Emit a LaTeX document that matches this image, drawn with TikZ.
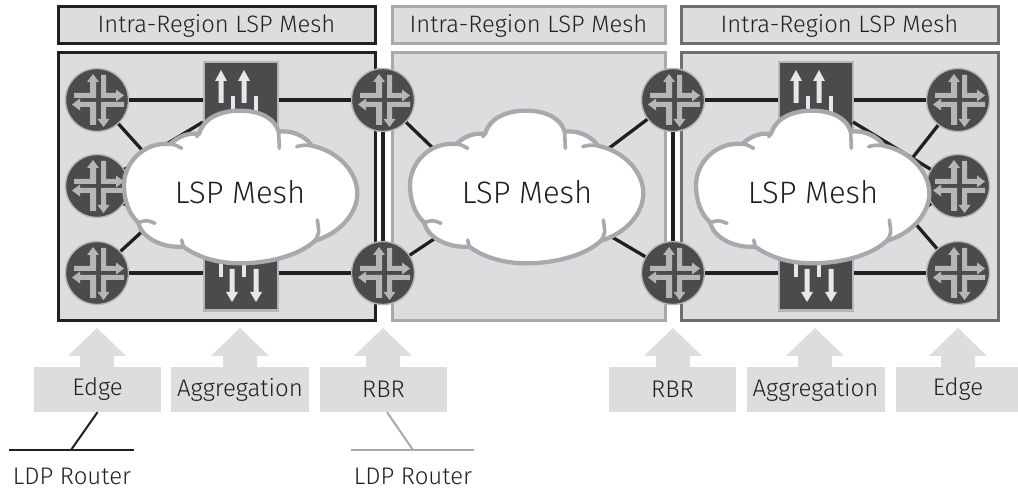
\documentclass[tikz,border=0pt]{standalone}
\usepackage{fontspec}
\setmainfont{Fira Sans}[UprightFont=* Light]
\definecolor{boxfill}{HTML}{DCDDDE}
\definecolor{darkfill}{HTML}{4A4B4D}
\definecolor{midgray}{HTML}{A7A9AC}
\definecolor{ringgray}{HTML}{B4B6B8}
\definecolor{dimgray}{HTML}{6D6E71}
\definecolor{inkblack}{HTML}{231F20}
\definecolor{arrowlight}{HTML}{E6E7E8}
\tikzset{
  x=1pt,y=-1pt,
  titlebox/.style={draw=#1,line width=3pt,fill=boxfill},
  regionbox/.style={draw=#1,line width=3pt,fill=boxfill},
  routernode/.style={circle,draw=ringgray,line width=1.4pt,fill=darkfill,minimum size=63pt,inner sep=0pt},
  aggnode/.style={rectangle,draw=ringgray,line width=2pt,fill=darkfill,minimum width=74pt,minimum height=248pt,inner sep=0pt},
  linkline/.style={line width=3.3pt,draw=inkblack},
  labelbox/.style={rectangle,fill=boxfill,inner sep=0pt,text=inkblack,font=\fontsize{24}{28}\selectfont},
  upshape/.style={fill=boxfill,draw=none},
  bigtext/.style={text=inkblack,font=\fontsize{23.8}{28}\selectfont},
  cloudtext/.style={text=inkblack,font=\fontsize{31}{36}\selectfont},
  plaintext/.style={text=inkblack,inner sep=0pt,anchor=base,font=\fontsize{24}{24}\selectfont},
  pics/routericon/.style={code={
    \fill[ringgray] (-23,-7) -- (-7,-7) -- (-7,-18) -- (-10,-18) -- (-4,-26) -- (2,-18) -- (-1,-18) -- (-1,-2) -- (-23,-2) -- cycle;
    \fill[ringgray] (4,-25) -- (9,-25) -- (9,-7) -- (19,-7) -- (19,-10.5) -- (27,-4.5) -- (19,1.5) -- (19,-2) -- (4,-2) -- cycle;
    \fill[ringgray] (-1,2) -- (-1,25) -- (-7,25) -- (-7,7) -- (-17,7) -- (-17,10.5) -- (-25,4.5) -- (-17,-1.5) -- (-17,2) -- cycle;
    \fill[ringgray] (4,2) -- (27,2) -- (27,7) -- (9,7) -- (9,19) -- (12.5,19) -- (6.5,27) -- (0.5,19) -- (4,19) -- cycle;
  }},
  pics/aggicon/.style={code={
    \fill[arrowlight] (18,70) -- (24,81) -- (20.5,81) -- (20.5,103) -- (15.5,103) -- (15.5,81) -- (12,81) -- cycle;
    \fill[arrowlight] (41,70) -- (47,81) -- (43.5,81) -- (43.5,103) -- (38.5,103) -- (38.5,81) -- (35,81) -- cycle;
    \fill[arrowlight] (27.5,96) rectangle (32,125);
    \fill[arrowlight] (50.5,96) rectangle (55,125);
    \fill[arrowlight] (29,302) -- (23,292) -- (26.5,292) -- (26.5,269) -- (31.5,269) -- (31.5,292) -- (35,292) -- cycle;
    \fill[arrowlight] (53,302) -- (47,292) -- (50.5,292) -- (50.5,269) -- (55.5,269) -- (55.5,292) -- (59,292) -- cycle;
    \fill[arrowlight] (15.5,250) rectangle (20,277);
    \fill[arrowlight] (38.5,250) rectangle (43,277);
  }},
  pics/uparrow/.style={code={
    \fill[upshape] (0,0) -- (29,28) -- (17,28) -- (17,40) -- (-17,40) -- (-17,28) -- (-29,28) -- cycle;
  }}
}
\newcommand{\cloudshape}[1]{%
\begin{scope}[xshift=#1pt,scale=1/3]
  \filldraw[fill=white,draw=midgray,line width=4.3pt,line join=round]
  (510,432) .. controls (540,405) and (570,398) .. (597,402)
  .. controls (610,355) and (660,332) .. (720,332)
  .. controls (780,332) and (825,355) .. (836,395)
  .. controls (870,390) and (915,405) .. (935,437)
  .. controls (1020,455) and (1072,520) .. (1072,580)
  .. controls (1072,640) and (1020,700) .. (945,722)
  .. controls (900,765) and (810,790) .. (720,790)
  .. controls (650,790) and (590,770) .. (550,740)
  .. controls (490,745) and (425,715) .. (415,668)
  .. controls (385,640) and (372,600) .. (372,555)
  .. controls (372,490) and (430,425) .. (510,432) -- cycle;
  \draw[midgray,line width=3.6pt,line cap=round]
    (510,432) .. controls (525,434) .. (545,445)
    (597,402) -- (590,410)
    (836,395) -- (838,445)
    (935,437) .. controls (910,435) .. (890,440)
    (945,722) .. controls (958,700) .. (952,660)
    (550,740) -- (545,720)
    (415,668) .. controls (440,660) .. (465,670);
\end{scope}}
\begin{document}
\begin{tikzpicture}
\useasboundingbox (0,0) rectangle (1018,489);
% title boxes
\node[titlebox=inkblack,minimum width=317pt,minimum height=37pt,inner sep=0pt,bigtext] (t1) at (216.5,25.5) {Intra-Region LSP Mesh};
\node[titlebox=midgray,minimum width=273pt,minimum height=37pt,inner sep=0pt,bigtext] (t2) at (528.5,25.5) {Intra-Region LSP Mesh};
\node[titlebox=dimgray,minimum width=317pt,minimum height=37pt,inner sep=0pt,bigtext] (t3) at (839.5,25.5) {Intra-Region LSP Mesh};
% region boxes
\node[regionbox=midgray,minimum width=273pt,minimum height=267pt,inner sep=0pt] (r2) at (528.5,186.5) {};
\node[regionbox=inkblack,minimum width=317pt,minimum height=267pt,inner sep=0pt] (r1) at (216.5,186.5) {};
\node[regionbox=dimgray,minimum width=317pt,minimum height=267pt,inner sep=0pt] (r3) at (839.5,186.5) {};
% aggregation
\node[aggnode] (a1) at (240.5,186.5) {};
\node[aggnode] (a2) at (815.5,186.5) {};
% routers
\foreach \n/\px/\py in {e1/97/100,e2/97/186,e3/97/273,b1/383/100,b2/383/273,b3/673/100,b4/673/273,f1/958/100,f2/958/186,f3/958/273}{
  \node[routernode] (\n) at (\px,\py) {};
}
% hidden ends of the links that run under the clouds
\coordinate (h1) at (160,170);
\coordinate (h2) at (160,215);
\coordinate (h3) at (440,155);
\coordinate (h4) at (440,235);
\coordinate (h5) at (600,155);
\coordinate (h6) at (600,230);
\coordinate (h7) at (895,180);
\coordinate (h8) at (895,200);
\coordinate (ua) at (203,122);
\coordinate (la) at (203,255);
\coordinate (ub) at (853,122);
\coordinate (lb) at (853,255);
% links
\draw[linkline] (e1) -- (e1 -| a1.west);
\draw[linkline] (e3) -- (e3 -| a1.west);
\draw[linkline] (b1) -- (b1 -| a1.east);
\draw[linkline] (b2) -- (b2 -| a1.east);
\draw[linkline] (b3) -- (b3 -| a2.west);
\draw[linkline] (b4) -- (b4 -| a2.west);
\draw[linkline] (f1) -- (f1 -| a2.east);
\draw[linkline] (f3) -- (f3 -| a2.east);
\draw[linkline] (e1) -- (h1);
\draw[linkline] (e3) -- (h2);
\draw[linkline] (e2) -- (ua);
\draw[linkline] (e2) -- (la);
\draw[linkline] (f2) -- (ub);
\draw[linkline] (f2) -- (lb);
\draw[linkline] (f1) -- (h7);
\draw[linkline] (f3) -- (h8);
\draw[linkline] (b1) -- (h3);
\draw[linkline] (b2) -- (h4);
\draw[linkline] (b3) -- (h5);
\draw[linkline] (b4) -- (h6);
\draw[linkline] (b1) -- (b2);
\draw[linkline] (b3) -- (b4);
% icons
\foreach \n in {e1,e2,e3,b1,b2,b3,b4,f1,f2,f3}{ \pic at (\n) {routericon}; }
\pic at (203,0) {aggicon};
\pic at (778,0) {aggicon};
% clouds
\cloudshape{0}
\cloudshape{286}
\cloudshape{572}
\node[cloudtext] (c1) at (240,192) {LSP Mesh};
\node[cloudtext] (c2) at (527,192) {LSP Mesh};
\node[cloudtext] (c3) at (813,192) {LSP Mesh};
% lower labels
\foreach \px in {97,240,383,673,815,958}{ \pic at (\px,328) {uparrow}; }
\node[labelbox,minimum width=127pt,minimum height=45pt] (l1) at (97.5,389.5) {Edge};
\node[labelbox,minimum width=138pt,minimum height=45pt] (l2) at (240,389.5) {Aggregation};
\node[labelbox,minimum width=127pt,minimum height=45pt] (l3) at (383.5,389.5) {RBR};
\node[labelbox,minimum width=127pt,minimum height=45pt] (l4) at (672.5,389.5) {RBR};
\node[labelbox,minimum width=138pt,minimum height=45pt] (l5) at (815.5,389.5) {Aggregation};
\node[labelbox,minimum width=122pt,minimum height=45pt] (l6) at (956.5,389.5) {\hspace{3pt}Edge};
% LDP attachments
\coordinate (busa) at (9,450);
\coordinate (busb) at (134,450);
\coordinate (tapa) at (71,450);
\coordinate (busc) at (351,450);
\coordinate (busd) at (474,450);
\coordinate (tapb) at (413,450);
\draw[line width=2pt,draw=inkblack] (busa) -- (busb);
\draw[line width=2pt,draw=inkblack] (l1.south) -- (tapa);
\draw[line width=2pt,draw=midgray] (busc) -- (busd);
\draw[line width=2pt,draw=midgray] ([xshift=3.5pt]l3.south) -- (tapb);
\node[plaintext] (d1) at (72,484) {LDP Router};
\node[plaintext] (d2) at (413,484) {LDP Router};
\end{tikzpicture}
\end{document}
